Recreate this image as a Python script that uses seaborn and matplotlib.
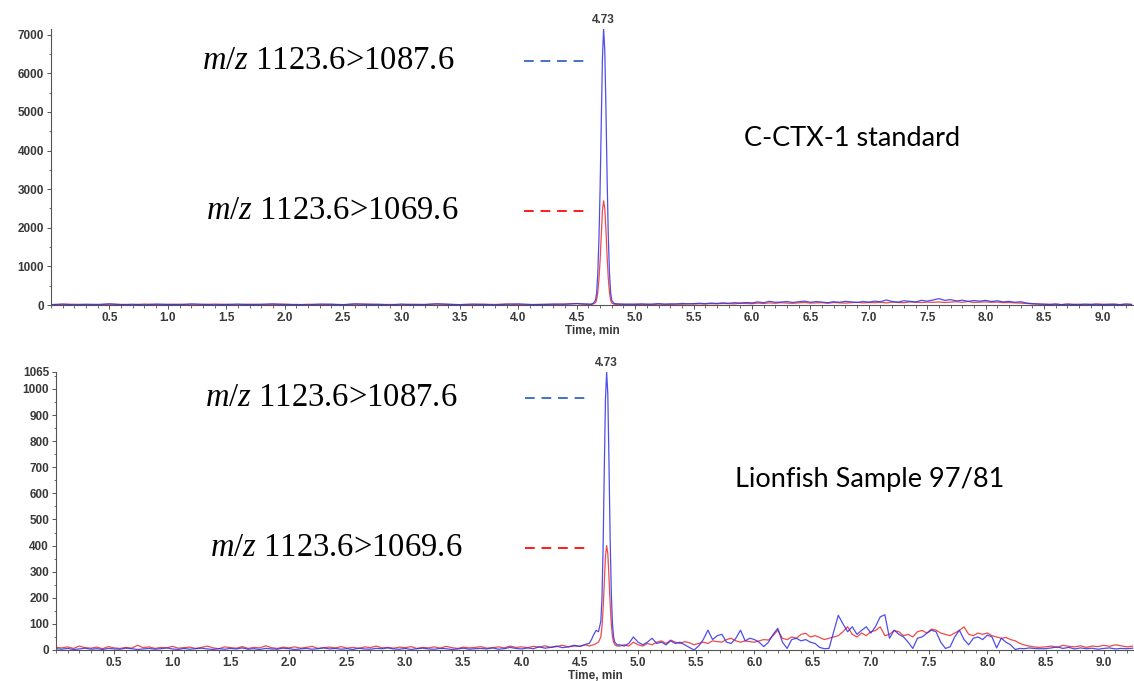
import matplotlib
matplotlib.use("Agg")
import matplotlib.pyplot as plt
import seaborn as sns
from matplotlib.ticker import MultipleLocator

# ---- data ----
# top panel: C-CTX-1 standard
top_t_base = [0.0, 0.1, 0.2, 0.3, 0.4, 0.5, 0.6, 0.7, 0.8, 0.9,
              1.0, 1.1, 1.2, 1.3, 1.4, 1.5, 1.6, 1.7, 1.8, 1.9,
              2.0, 2.1, 2.2, 2.3, 2.4, 2.5, 2.6, 2.7, 2.8, 2.9,
              3.0, 3.1, 3.2, 3.3, 3.4, 3.5, 3.6, 3.7, 3.8, 3.9,
              4.0, 4.1, 4.2, 4.3, 4.4, 4.5]
top_blue_base = [10, 25, 5, 20, 15, 30, 10, 20, 5, 25,
                 15, 10, 30, 20, 5, 15, 25, 10, 20, 30,
                 10, 15, 5, 25, 20, 10, 30, 15, 20, 5,
                 25, 10, 15, 30, 20, 10, 25, 15, 5, 20,
                 30, 15, 10, 25, 20, 35]
top_red_base = [5, 15, 20, 10, 5, 20, 15, 5, 25, 10,
                15, 20, 5, 10, 25, 15, 5, 20, 10, 15,
                25, 5, 20, 10, 15, 5, 20, 25, 10, 15,
                5, 20, 10, 25, 15, 5, 10, 20, 15, 25,
                10, 5, 20, 15, 25, 40]

top_t_peak = [4.55, 4.60, 4.62, 4.64, 4.66, 4.67, 4.68, 4.69, 4.70, 4.71,
              4.72, 4.73, 4.74, 4.75, 4.76, 4.77, 4.78, 4.79, 4.80, 4.82]
top_blue_peak = [30, 25, 20, 40, 120, 300, 800, 1700, 3000, 4700,
                 6400, 7150, 6600, 5100, 3300, 1800, 850, 330, 120, 40]
top_red_peak = [20, 15, 15, 25, 60, 120, 320, 660, 1150, 1800,
                2450, 2700, 2500, 1950, 1250, 700, 330, 130, 50, 20]

top_t_tail = [4.85, 4.90, 4.95, 5.00, 5.05, 5.10, 5.15, 5.20, 5.25, 5.30, 5.35, 5.40, 5.45, 5.50,
              5.55, 5.60, 5.65, 5.70, 5.75, 5.80, 5.85, 5.90, 5.95, 6.00,
              6.05, 6.10, 6.15, 6.20, 6.25, 6.30, 6.35, 6.40, 6.45, 6.50,
              6.55, 6.60, 6.65, 6.70, 6.75, 6.80, 6.85, 6.90, 6.95, 7.00,
              7.05, 7.10, 7.15, 7.20, 7.25, 7.30, 7.35, 7.40, 7.45, 7.50,
              7.55, 7.60, 7.65, 7.70, 7.75, 7.80, 7.85, 7.90, 7.95, 8.00,
              8.05, 8.10, 8.15, 8.20, 8.25, 8.30, 8.35, 8.40, 8.45, 8.50,
              8.55, 8.60, 8.65, 8.70, 8.75, 8.80, 8.85, 8.90, 8.95, 9.00,
              9.05, 9.10, 9.15, 9.20, 9.25]
top_blue_tail = [30, 20, 25, 15, 30, 20, 25, 35, 20, 30, 25, 40, 30, 35,
                 45, 35, 50, 40, 55, 45, 60, 50, 65, 55,
                 80, 60, 95, 70, 75, 90, 65, 85, 100, 70,
                 90, 75, 60, 85, 70, 95, 80, 65, 90, 75,
                 100, 85, 130, 90, 75, 110, 95, 80, 120, 100,
                 130, 165, 120, 140, 105, 125, 95, 115, 100, 120,
                 90, 110, 80, 95, 70, 85, 50, 35, 25, 20,
                 15, 25, 10, 20, 15, 10, 25, 15, 20, 10,
                 20, 15, 10, 25, 15]
top_red_tail = [15, 20, 10, 25, 15, 20, 10, 25, 20, 15, 25, 20, 30, 25,
                30, 25, 35, 30, 40, 35, 30, 45, 40, 35,
                50, 40, 55, 45, 60, 50, 45, 55, 65, 50,
                55, 60, 45, 65, 55, 50, 60, 70, 55, 65,
                60, 70, 55, 75, 65, 60, 80, 70, 65, 75,
                70, 80, 65, 75, 85, 70, 90, 65, 75, 80,
                70, 75, 60, 65, 55, 50, 40, 30, 25, 20,
                15, 20, 10, 25, 15, 20, 10, 15, 25, 20,
                15, 25, 10, 20, 15]

# bottom panel: Lionfish sample 97/81
bot_t_base = [0.00, 0.05, 0.10, 0.15, 0.20, 0.25, 0.30, 0.35, 0.40, 0.45,
              0.50, 0.55, 0.60, 0.65, 0.70, 0.75, 0.80, 0.85, 0.90, 0.95,
              1.00, 1.05, 1.10, 1.15, 1.20, 1.25, 1.30, 1.35, 1.40, 1.45,
              1.50, 1.55, 1.60, 1.65, 1.70, 1.75, 1.80, 1.85, 1.90, 1.95,
              2.00, 2.05, 2.10, 2.15, 2.20, 2.25, 2.30, 2.35, 2.40, 2.45,
              2.50, 2.55, 2.60, 2.65, 2.70, 2.75, 2.80, 2.85, 2.90, 2.95,
              3.00, 3.05, 3.10, 3.15, 3.20, 3.25, 3.30, 3.35, 3.40, 3.45,
              3.50, 3.55, 3.60, 3.65, 3.70, 3.75, 3.80, 3.85, 3.90, 3.95,
              4.00, 4.05, 4.10, 4.15, 4.20, 4.25, 4.30, 4.35, 4.40, 4.45,
              4.50, 4.55]
bot_blue_base = [5, 3, 6, 2, 4, 7, 3, 5, 2, 6,
                 4, 3, 7, 5, 2, 4, 6, 3, 5, 8,
                 4, 2, 6, 3, 5, 7, 4, 2, 5, 3,
                 6, 4, 8, 3, 5, 2, 6, 4, 3, 7,
                 5, 2, 4, 6, 3, 5, 8, 4, 6, 3,
                 5, 2, 7, 4, 3, 6, 5, 8, 4, 3,
                 6, 2, 5, 7, 4, 3, 6, 5, 2, 4,
                 7, 3, 5, 6, 4, 8, 3, 5, 10, 6,
                 4, 8, 5, 12, 7, 10, 15, 9, 12, 18,
                 14, 22]
bot_red_base = [10, 8, 12, 6, 15, 9, 7, 11, 5, 13,
                8, 6, 10, 7, 18, 9, 12, 6, 10, 8,
                14, 7, 9, 11, 6, 10, 15, 8, 5, 12,
                9, 7, 13, 6, 10, 8, 16, 9, 6, 11,
                8, 12, 7, 10, 14, 6, 9, 11, 8, 13,
                7, 10, 6, 12, 9, 15, 8, 10, 7, 11,
                9, 13, 6, 10, 8, 12, 7, 14, 9, 6,
                11, 8, 10, 13, 7, 9, 12, 8, 15, 10,
                12, 9, 14, 11, 16, 10, 13, 18, 12, 15,
                14, 20]

bot_t_peak = [4.58, 4.60, 4.62, 4.64, 4.66, 4.68, 4.69, 4.70, 4.71, 4.72,
              4.73, 4.74, 4.75, 4.76, 4.77, 4.78, 4.79, 4.80, 4.82]
bot_blue_peak = [25, 40, 60, 75, 70, 110, 200, 400, 700, 960,
                 1065, 980, 720, 430, 220, 100, 50, 30, 20]
bot_red_peak = [15, 18, 20, 25, 30, 50, 90, 160, 260, 360,
                400, 370, 280, 180, 100, 50, 30, 20, 15]

bot_t_noise = [4.84, 4.88, 4.92, 4.96, 5.00, 5.04, 5.08, 5.12, 5.16, 5.20,
               5.24, 5.28, 5.32, 5.36, 5.40, 5.44, 5.48, 5.52, 5.56, 5.60,
               5.64, 5.68, 5.72, 5.76, 5.80, 5.84, 5.88, 5.92, 5.96, 6.00,
               6.04, 6.08, 6.12, 6.16, 6.20, 6.24, 6.28, 6.32, 6.36, 6.40,
               6.44, 6.48, 6.52, 6.56, 6.60, 6.64, 6.68, 6.72, 6.76, 6.80,
               6.84, 6.88, 6.92, 6.96, 7.00, 7.04, 7.08, 7.12, 7.16, 7.20,
               7.24, 7.28, 7.32, 7.36, 7.40, 7.44, 7.48, 7.52, 7.56, 7.60,
               7.64, 7.68, 7.72, 7.76, 7.80, 7.84, 7.88, 7.92, 7.96, 8.00,
               8.04, 8.08, 8.12, 8.16, 8.20, 8.24, 8.28, 8.32, 8.36, 8.40,
               8.44]
bot_blue_noise = [20, 15, 25, 50, 30, 20, 30, 45, 25, 30,
                  20, 35, 25, 30, 20, 10, 0, 15, 40, 76,
                  40, 55, 60, 30, 25, 45, 76, 35, 45, 40,
                  30, 13, 30, 60, 83, 30, 6, 40, 45, 35,
                  40, 30, 25, 10, 5, 6, 70, 133, 100, 70,
                  89, 60, 75, 89, 65, 90, 127, 135, 45, 76,
                  60, 50, 30, 6, 45, 50, 64, 76, 70, 30,
                  6, 12, 50, 76, 40, 20, 45, 50, 40, 57,
                  50, 8, 45, 30, 20, 2, 6, 5, 8, 6,
                  5]
bot_red_noise = [15, 20, 15, 30, 20, 15, 25, 20, 30, 35,
                 25, 38, 30, 25, 32, 28, 20, 25, 30, 25,
                 35, 32, 30, 40, 45, 35, 30, 35, 32, 30,
                 35, 40, 38, 55, 76, 45, 40, 50, 45, 60,
                 64, 50, 55, 48, 40, 45, 50, 55, 70, 89,
                 60, 50, 65, 55, 70, 75, 89, 55, 60, 75,
                 70, 55, 60, 50, 70, 75, 65, 80, 76, 65,
                 60, 55, 65, 75, 89, 60, 55, 65, 60, 65,
                 55, 50, 45, 48, 40, 35, 25, 19, 15, 12,
                 10]

bot_t_tail = [8.50, 8.55, 8.60, 8.65, 8.70, 8.75, 8.80, 8.85, 8.90, 8.95,
              9.00, 9.05, 9.10, 9.15, 9.20, 9.25]
bot_blue_tail = [5, 8, 12, 6, 10, 4, 8, 5, 7, 3, 6, 8, 4, 6, 5, 7]
bot_red_tail = [12, 15, 10, 18, 14, 12, 16, 10, 15, 13, 18, 14, 20, 16, 12, 15]

top_t = top_t_base + top_t_peak + top_t_tail
top_blue = top_blue_base + top_blue_peak + top_blue_tail
top_red = top_red_base + top_red_peak + top_red_tail
bot_t = bot_t_base + bot_t_peak + bot_t_noise + bot_t_tail
bot_blue = bot_blue_base + bot_blue_peak + bot_blue_noise + bot_blue_tail
bot_red = bot_red_base + bot_red_peak + bot_red_noise + bot_red_tail

peak_rt = 4.73
top_peak_height = 7150
bot_peak_height = 1065
transition_blue = "$m/z$ 1123.6>1087.6"
transition_red = "$m/z$ 1123.6>1069.6"
top_sample = "C-CTX-1 standard"
bot_sample = "Lionfish Sample 97/81"
top_dash_levels = [6330, 2430]
bot_dash_levels = [966, 390]

# ---- style ----
sns.set_style("ticks")
plt.rcParams['font.family'] = ['Liberation Sans', 'DejaVu Sans']
plt.rcParams['mathtext.fontset'] = 'custom'
plt.rcParams['mathtext.it'] = 'Liberation Serif:italic'
plt.rcParams['mathtext.rm'] = 'Liberation Serif'

BLUE = '#2f2fe8'
RED = '#f04a4a'
DASH_BLUE = '#4472c4'
DASH_RED = '#ff1a1a'
TICK_COL = '#383838'
TICK_FS = 8.5

W, H = 1134, 681
fig = plt.figure(figsize=(W / 100, H / 100), dpi=100)
ax_top = fig.add_axes([51 / W, (H - 305) / H, (W - 51) / W, 276 / H])
ax_bot = fig.add_axes([56 / W, (H - 650) / H, (W - 56) / W, 278 / H])


def style_axis(ax, xmax, ymax, yticks, yminor):
    ax.set_xlim(0, xmax)
    ax.set_ylim(0, ymax)
    ax.set_xticks([0.5 * i for i in range(1, 19)])
    ax.set_xticklabels([f"{0.5 * i:.1f}" for i in range(1, 19)])
    ax.xaxis.set_minor_locator(MultipleLocator(0.1))
    ax.set_yticks(yticks)
    ax.yaxis.set_minor_locator(MultipleLocator(yminor))
    for s in ['top', 'right']:
        ax.spines[s].set_visible(False)
    for s in ['left', 'bottom']:
        ax.spines[s].set_color('#555555')
        ax.spines[s].set_linewidth(0.8)
    ax.tick_params(axis='both', which='major', labelsize=TICK_FS, length=3,
                   width=0.7, color='#555555', labelcolor=TICK_COL, pad=2)
    ax.tick_params(axis='both', which='minor', length=1.8, width=0.6, color='#555555')
    for lab in ax.get_xticklabels() + ax.get_yticklabels():
        lab.set_fontweight('bold')
    ax.set_xlabel("Time, min", fontsize=TICK_FS, fontweight='bold', color=TICK_COL, labelpad=1)
    ax.set_ylabel("")
    ax.set_facecolor('white')


# top chromatogram
sns.lineplot(x=top_t, y=top_red, ax=ax_top, color=RED, linewidth=0.9, estimator=None, sort=False)
sns.lineplot(x=top_t, y=top_blue, ax=ax_top, color=BLUE, linewidth=0.9, alpha=0.85, estimator=None, sort=False)
style_axis(ax_top, 9.27, 7150, list(range(0, 7001, 1000)), 500)

# bottom chromatogram
sns.lineplot(x=bot_t, y=bot_red, ax=ax_bot, color=RED, linewidth=0.9, estimator=None, sort=False)
sns.lineplot(x=bot_t, y=bot_blue, ax=ax_bot, color=BLUE, linewidth=0.9, alpha=0.85, estimator=None, sort=False)
style_axis(ax_bot, 9.26, 1065, list(range(0, 1001, 100)) + [1065], 50)

for ax, h in [(ax_top, top_peak_height), (ax_bot, bot_peak_height)]:
    ax.annotate(f"{peak_rt:.2f}", xy=(peak_rt, h), xytext=(0, 2), textcoords='offset points',
                ha='center', va='bottom', fontsize=TICK_FS, fontweight='bold',
                color=TICK_COL, annotation_clip=False)

# dashed guides and transition labels
for ax, levels, x0, x1, tx in [(ax_top, top_dash_levels, 4.05, 4.58, 3.45),
                               (ax_bot, bot_dash_levels, 4.03, 4.56, 3.45)]:
    ax.plot([x0, x1], [levels[0]] * 2, color=DASH_BLUE, lw=1.4, dashes=(5, 3.5))
    ax.plot([x0, x1], [levels[1]] * 2, color=DASH_RED, lw=1.4, dashes=(5, 3.5))
    ax.text(tx, levels[0], transition_blue, ha='right', va='center', fontsize=23.5,
            family='Liberation Serif', color='black')
    ax.text(tx + 0.04, levels[1], transition_red, ha='right', va='center', fontsize=23.5,
            family='Liberation Serif', color='black')

fig.text(852 / W, 1 - 138 / H, top_sample, ha='center', va='center', fontsize=19.5,
         family='Lato', color='black')
fig.text(870 / W, 1 - 480 / H, bot_sample, ha='center', va='center', fontsize=19.5,
         family='Lato', color='black')

fig.savefig("out.png", dpi=100, facecolor='white')
